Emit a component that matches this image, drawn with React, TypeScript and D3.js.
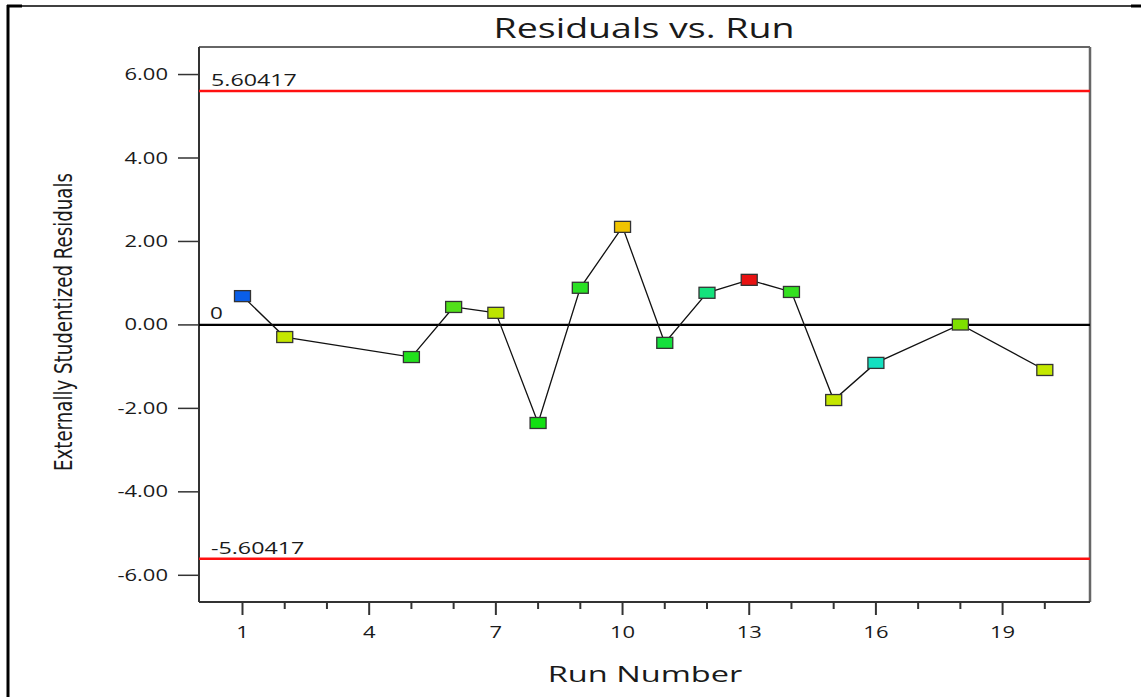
import React from "react";
import * as d3 from "d3";

const runs = [1, 2, 5, 6, 7, 8, 9, 10, 11, 12, 13, 14, 15, 16, 18, 20];
const residuals = [0.69, -0.29, -0.77, 0.43, 0.29, -2.35, 0.89, 2.35, -0.43, 0.77, 1.08, 0.79, -1.8, -0.91, 0.01, -1.08];
const pointColors = [
  "#0a5ee8", "#c4e600", "#22e01c", "#52e01a", "#bce400", "#12e012", "#2ae024", "#f0c400",
  "#14e03c", "#14e27c", "#e81212", "#34e020", "#c4e600", "#14e0c0", "#7ee000", "#c4e800",
];
const yTicks = [-6, -4, -2, 0, 2, 4, 6];
const xMajorTicks = [1, 4, 7, 10, 13, 16, 19];
const xMinorTicks = [2, 3, 5, 6, 8, 9, 11, 12, 14, 15, 17, 18, 20];
const limitValue = 5.60417;

const W = 1141;
const H = 697;
const L = 199, R = 1090, T = 47, B = 602;
const FONT = "'Open Sans', 'DejaVu Sans', sans-serif";
const SX = 1.45;

function SText(props: { x: number; y: number; size: number; anchor?: string; children: React.ReactNode; sx?: number }) {
  const { x, y, size, anchor = "start", children, sx = SX } = props;
  return (
    <text
      transform={`translate(${x},${y}) scale(${sx},1)`}
      textAnchor={anchor}
      fontFamily={FONT}
      fontSize={size}
      fill="#1a1a1a"
    >
      {children}
    </text>
  );
}

export default function App() {
  const x = d3.scaleLinear().domain([-0.03, 21.07]).range([L, R]);
  const y = d3.scaleLinear().domain([-6.64, 6.66]).range([B, T]);
  const pts = runs.map((r, i) => ({ r, v: residuals[i], c: pointColors[i] }));
  const line = d3.line<{ r: number; v: number }>().x((d) => x(d.r)).y((d) => y(d.v));

  return (
    <svg width={W} height={H} style={{ position: "absolute", left: 0, top: 0, background: "#fff" }}>
      {/* outer frame */}
      <line x1={7} y1={6} x2={1131} y2={6} stroke="#000" strokeWidth={1.5} />
      <line x1={7} y1={6} x2={22} y2={6} stroke="#000" strokeWidth={3} />
      <line x1={1131} y1={6} x2={1141} y2={6} stroke="#000" strokeWidth={3} />
      <line x1={8} y1={5} x2={8} y2={697} stroke="#000" strokeWidth={3} />

      {/* title */}
      <SText x={644} y={38} size={27} anchor="middle" sx={1.39}>Residuals vs. Run</SText>

      {/* plot box */}
      <line x1={L} y1={T} x2={R} y2={T} stroke="#666" strokeWidth={2} />
      <line x1={R} y1={T} x2={R} y2={B} stroke="#666" strokeWidth={2.5} />
      <line x1={L} y1={T} x2={L} y2={B} stroke="#333" strokeWidth={2} />
      <line x1={L} y1={B} x2={R} y2={B} stroke="#333" strokeWidth={2} />

      {/* y ticks */}
      {yTicks.map((t) => (
        <g key={t}>
          <line x1={L - 21} x2={L} y1={y(t)} y2={y(t)} stroke="#333" strokeWidth={1.5} />
          <SText x={L - 31} y={y(t) + 5.5} size={15.5} anchor="end" sx={1.42}>{t.toFixed(2)}</SText>
        </g>
      ))}

      {/* x ticks */}
      {xMajorTicks.map((t) => (
        <g key={t}>
          <line x1={x(t)} x2={x(t)} y1={B} y2={B + 13} stroke="#333" strokeWidth={2} />
          <SText x={x(t)} y={638} size={15.5} anchor="middle" sx={1.42}>{t}</SText>
        </g>
      ))}
      {xMinorTicks.map((t) => (
        <line key={t} x1={x(t)} x2={x(t)} y1={B} y2={B + 7} stroke="#333" strokeWidth={2} />
      ))}

      {/* axis labels */}
      <SText x={645} y={682} size={21} anchor="middle" sx={1.55}>Run Number</SText>
      <text
        transform={`translate(72,322) rotate(-90)`}
        textAnchor="middle"
        fontFamily="'DejaVu Sans Condensed', 'Liberation Sans Narrow', 'Open Sans', sans-serif"
        fontSize={24}
        textLength={298}
        lengthAdjust="spacingAndGlyphs"
        fill="#1a1a1a"
      >
        Externally Studentized Residuals
      </text>

      {/* limit lines */}
      <line x1={L} x2={R} y1={y(limitValue)} y2={y(limitValue)} stroke="#ff1010" strokeWidth={2.5} />
      <line x1={L} x2={R} y1={y(-limitValue)} y2={y(-limitValue)} stroke="#ff1010" strokeWidth={2.5} />
      <SText x={211} y={y(limitValue) - 5} size={15.5} sx={1.5}>{limitValue.toFixed(5)}</SText>
      <SText x={211} y={y(-limitValue) - 5} size={15.5} sx={1.5}>{(-limitValue).toFixed(5)}</SText>

      {/* zero line */}
      <line x1={L} x2={R} y1={y(0)} y2={y(0)} stroke="#000" strokeWidth={2.2} />
      <SText x={210} y={y(0) - 6} size={15.5}>0</SText>

      {/* connecting line */}
      <path d={line(pts) || ""} fill="none" stroke="#111" strokeWidth={1.3} />

      {/* markers */}
      {pts.map((p) => (
        <rect
          key={p.r}
          x={x(p.r) - 8}
          y={y(p.v) - 5.5}
          width={16}
          height={11}
          fill={p.c}
          stroke="#333"
          strokeWidth={1.3}
        />
      ))}
    </svg>
  );
}
